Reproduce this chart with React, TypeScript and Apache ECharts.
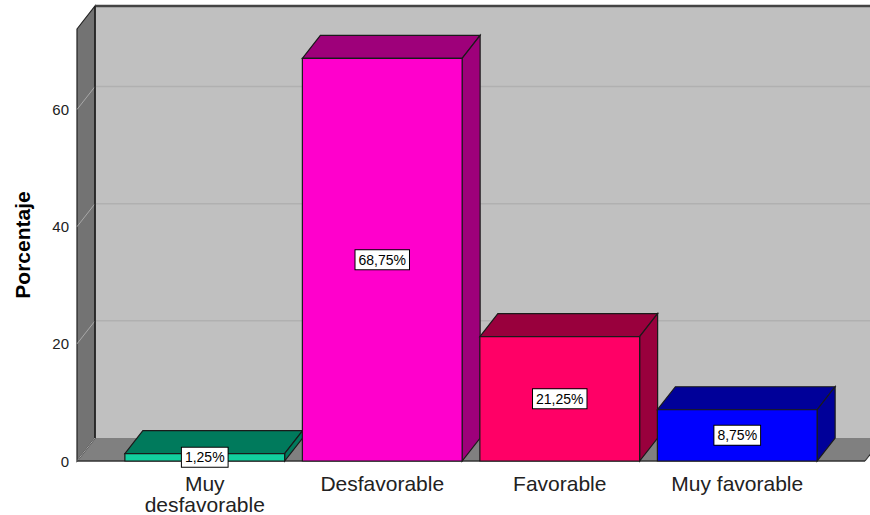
import React, { useEffect, useRef } from 'react';
import * as echarts from 'echarts';

const categories = ['Muy\ndesfavorable', 'Desfavorable', 'Favorable', 'Muy favorable'];
const percentages = [1.25, 68.75, 21.25, 8.75];
const frontColors = ['#12cf9f', '#ff00cc', '#ff0066', '#0000ff'];
const topColors = ['#007a5c', '#9e007a', '#99003d', '#000099'];
const yTicks = [0, 20, 40, 60];
const yMax = 73.75;

const DX = 18;
const DY = -23;
const PAD = 39;
const FONT = "'Liberation Sans', Arial, Helvetica, sans-serif";

const fmt = (v: number) => v.toFixed(2).replace('.', ',') + '%';

export default function App() {
  const ref = useRef<HTMLDivElement>(null);
  useEffect(() => {
    if (!ref.current) return;
    const chart = echarts.init(ref.current, undefined, { renderer: 'svg' });
    const option: any = {
      animation: false,
      backgroundColor: '#ffffff',
      grid: { left: 116, right: 44, top: 29, bottom: 54, outerBoundsMode: 'none' },
      xAxis: {
        type: 'category',
        data: categories,
        axisLine: { show: false },
        axisTick: { show: false },
        axisLabel: { fontSize: 21, color: '#222', margin: 12, lineHeight: 21, fontFamily: FONT, interval: 0 },
      },
      yAxis: {
        type: 'value',
        min: 0,
        max: yMax,
        interval: 20,
        axisLine: { show: false },
        axisTick: { show: false },
        splitLine: { show: false },
        axisLabel: {
          margin: 47,
          fontSize: 15,
          color: '#222',
          fontFamily: FONT,
          formatter: (v: number) => (yTicks.indexOf(v) >= 0 ? String(v) : ''),
        },
        name: 'Porcentaje',
        nameLocation: 'middle',
        nameGap: 83,
        nameTextStyle: { fontSize: 21, fontWeight: 'bold', color: '#000', fontFamily: FONT },
      },
      series: [
        {
          type: 'custom',
          z: 1,
          silent: true,
          data: [[0, 0]],
          renderItem: (params: any, api: any) => {
            const cs = params.coordSys;
            const fl = cs.x - PAD;
            const fr = cs.x + cs.width + PAD;
            const yt = cs.y;
            const y0 = api.coord([0, 0])[1];
            const children: any[] = [];
            children.push({
              type: 'rect',
              shape: { x: fl + DX, y: yt + DY, width: fr - fl, height: y0 - yt },
              style: { fill: '#c0c0c0' },
            });
            yTicks.forEach((t) => {
              if (t === 0) return;
              const y = api.coord([0, t])[1];
              children.push({
                type: 'line',
                shape: { x1: fl + DX, y1: y + DY, x2: fr + DX, y2: y + DY },
                style: { stroke: '#b0b0b0', lineWidth: 1.5 },
              });
            });
            children.push({
              type: 'polygon',
              shape: { points: [[fl, y0], [fl + DX, y0 + DY], [fr + DX, y0 + DY], [fr, y0]] },
              style: { fill: '#808080' },
            });
            children.push({
              type: 'polygon',
              shape: { points: [[fl, yt], [fl + DX, yt + DY], [fl + DX, y0 + DY], [fl, y0]] },
              style: { fill: '#737373', stroke: '#222', lineWidth: 1.2 },
            });
            yTicks.forEach((t) => {
              const y = api.coord([0, t])[1];
              children.push({
                type: 'line',
                shape: { x1: fl, y1: y, x2: fl + DX, y2: y + DY },
                style: { stroke: '#a8a8a8', lineWidth: 1 },
              });
            });
            children.push({
              type: 'line',
              shape: { x1: fl + DX, y1: yt + DY, x2: fr + DX, y2: yt + DY },
              style: { stroke: '#444', lineWidth: 2.5 },
            });
            children.push({
              type: 'line',
              shape: { x1: fl + DX, y1: yt + DY, x2: fl + DX, y2: y0 + DY },
              style: { stroke: '#222', lineWidth: 1.5 },
            });
            children.push({
              type: 'line',
              shape: { x1: fl, y1: y0, x2: fr, y2: y0 },
              style: { stroke: '#333', lineWidth: 1.5 },
            });
            children.push({
              type: 'line',
              shape: { x1: fr, y1: y0, x2: fr + DX, y2: y0 + DY },
              style: { stroke: '#333', lineWidth: 1.2 },
            });
            return { type: 'group', children };
          },
        },
        {
          type: 'custom',
          z: 2,
          data: percentages.map((v, i) => [i, v]),
          renderItem: (params: any, api: any) => {
            const i = api.value(0);
            const v = api.value(1);
            const p = api.coord([i, v]);
            const cx = p[0];
            const yt = p[1];
            const y0 = api.coord([i, 0])[1];
            const w = api.size([1, 0])[0] * 0.9;
            const x1 = cx - w / 2;
            const x2 = cx + w / 2;
            const stroke = '#1a1a1a';
            const idx = params.dataIndex;
            return {
              type: 'group',
              children: [
                {
                  type: 'polygon',
                  shape: { points: [[x1, yt], [x2, yt], [x2 + DX, yt + DY], [x1 + DX, yt + DY]] },
                  style: { fill: topColors[idx], stroke, lineWidth: 1.2 },
                },
                {
                  type: 'polygon',
                  shape: { points: [[x2, yt], [x2 + DX, yt + DY], [x2 + DX, y0 + DY], [x2, y0]] },
                  style: { fill: topColors[idx], stroke, lineWidth: 1.2 },
                },
                {
                  type: 'rect',
                  shape: { x: x1, y: yt, width: w, height: y0 - yt },
                  style: { fill: frontColors[idx], stroke, lineWidth: 1.2 },
                },
                {
                  type: 'text',
                  z2: 10,
                  style: {
                    text: fmt(v),
                    x: cx,
                    y: (yt + y0) / 2,
                    align: 'center',
                    verticalAlign: 'middle',
                    font: `14px ${FONT}`,
                    fill: '#000',
                    backgroundColor: '#fff',
                    borderColor: '#000',
                    borderWidth: 1,
                    padding: [3, 3, 2, 3],
                  },
                },
              ],
            };
          },
        },
      ],
    };
    chart.setOption(option);
    return () => chart.dispose();
  }, []);
  return (
    <div
      ref={ref}
      style={{ position: 'fixed', left: 0, top: 0, width: 870, height: 515 }}
    />
  );
}
